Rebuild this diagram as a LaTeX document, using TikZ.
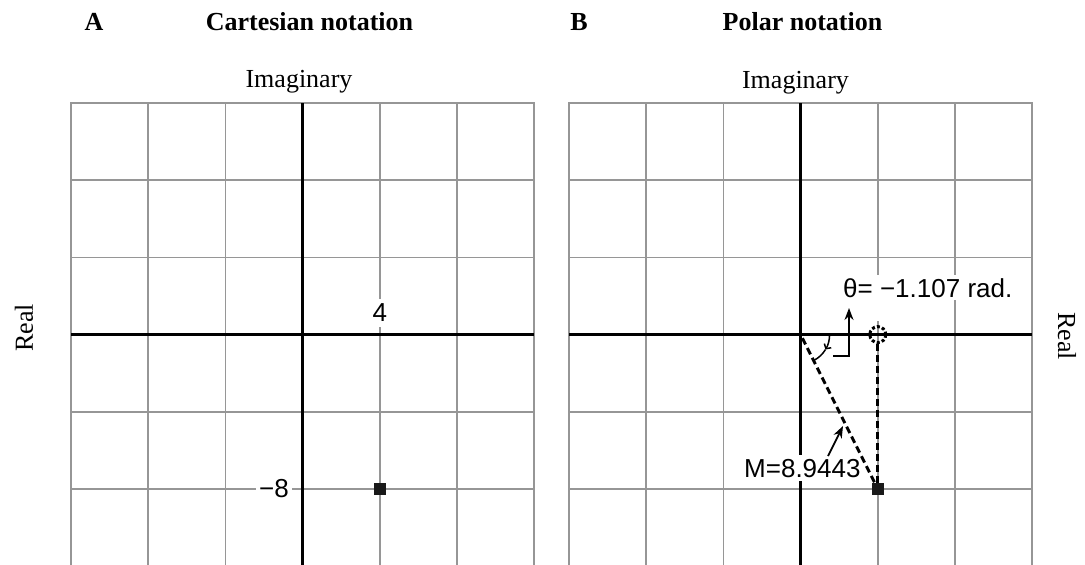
\documentclass[tikz,border=0pt]{standalone}
\usepackage{fontspec}
\setmainfont{Liberation Serif}
\newfontfamily\lsans{Liberation Sans}
\usetikzlibrary{arrows.meta}
\definecolor{gridgray}{RGB}{150,150,150}
\begin{document}
\begin{tikzpicture}[x=1pt,y=1pt,
  gridline/.style={draw=gridgray, line width=1.8pt, line cap=rect},
  axisline/.style={draw=black, line width=3.4pt},
  title/.style={font=\fontsize{26}{26}\selectfont\bfseries, anchor=base, inner sep=0},
  axlabel/.style={font=\fontsize{26}{26}\selectfont, inner sep=0},
  val/.style={font=\lsans\fontsize{26}{26}\selectfont, fill=white, inner sep=3pt},
  pt/.style={fill=black!90, minimum size=12pt, inner sep=0},
  ptr/.style={line width=1.8pt, -{Stealth[length=12pt,width=9pt]}},
  dashln/.style={line width=3pt, dash pattern=on 7pt off 4pt}]
\useasboundingbox (0,0) rectangle (1085,-565);

% ---------- left grid (Cartesian) ----------
\foreach \i in {0,...,6} \draw[gridline] (71+77.2*\i,-103) -- (71+77.2*\i,-565);
\foreach \j in {0,...,5} \draw[gridline] (71,-103-77.2*\j) -- (534.2,-103-77.2*\j);
\draw[axisline] (302.6,-103) -- (302.6,-565);
\draw[axisline] (71,-334.6) -- (534.2,-334.6);

% ---------- right grid (Polar) ----------
\foreach \i in {0,...,6} \draw[gridline] (569+77.2*\i,-103) -- (569+77.2*\i,-565);
\foreach \j in {0,...,5} \draw[gridline] (569,-103-77.2*\j) -- (1032.2,-103-77.2*\j);
\draw[axisline] (800.6,-103) -- (800.6,-565);
\draw[axisline] (569,-334.6) -- (1032.2,-334.6);

% ---------- titles and axis names ----------
\node[title] (tA) at (94,-30) {A};
\node[title] (tcart) at (309.5,-30) {Cartesian notation};
\node[title] (tB) at (579,-30) {B};
\node[title] (tpol) at (802.5,-30) {Polar notation};
\node[axlabel, anchor=base] (imA) at (299,-87) {Imaginary};
\node[axlabel, anchor=base] (imB) at (795.5,-88) {Imaginary};
\node[axlabel, rotate=90] (reA) at (24,-328) {Real};
\node[axlabel, rotate=-90] (reB) at (1067,-336) {Real};

% ---------- Cartesian values ----------
\node[val, inner ysep=5pt] (four) at (379.8,-313) {4};
\node[val] (meight) at (274,-489) {−8};
\node[pt] (pA) at (379.8,-489) {};

% ---------- Polar labels ----------
\node[val, anchor=base west, inner xsep=2pt, inner ysep=3pt] (thlab) at (841,-297) {θ= −1.107 rad.};
\fill[white] (871,-300) rectangle (884,-321);
\node[val, anchor=base west, inner xsep=1pt, inner ysep=4pt] (mlab) at (743,-477) {M=8.9443};

\coordinate (oB) at (800.6,-334.6);
\node[pt] (pB) at (877.8,-489) {};
\node[circle, draw, line width=3pt, dash pattern=on 3pt off 2.2pt, minimum size=16pt, inner sep=0] (mk) at (877.8,-334.6) {};

\draw[dashln] (mk.south) -- (pB.north);
\draw[dashln, shorten <=4pt] (oB) -- (pB);

% angle arc
\draw[line width=1.5pt, -{Straight Barb[length=3.5pt,width=8pt]}] ([shift={(0:29)}]oB) arc[start angle=0, end angle=-31, radius=29];
\draw[line width=1.5pt] ([shift={(-31:29)}]oB) arc[start angle=-31, end angle=-62, radius=29];

% pointers
\coordinate (thstart) at (833,-356);
\coordinate (thtip) at (849,-308);
\draw[ptr] (thstart) -| (thtip);
\coordinate (mstart) at (828,-456);
\coordinate (mtip) at (843,-426);
\draw[ptr] (mstart) -- (mtip);
\end{tikzpicture}
\end{document}
